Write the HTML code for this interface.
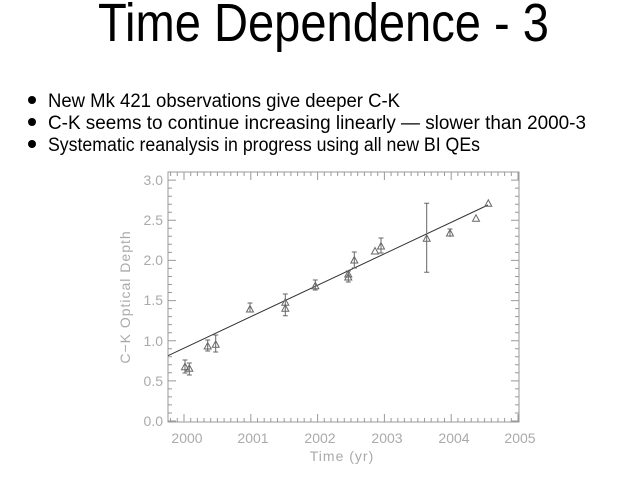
<!DOCTYPE html>
<html><head><style>html,body{margin:0;padding:0;background:#fff}svg{display:block}</style></head>
<body>
<svg width="640" height="480" xmlns="http://www.w3.org/2000/svg" font-family="Liberation Sans, sans-serif">
<rect width="640" height="480" fill="#fff"/>
<text x="98" y="41" font-size="54" textLength="451" lengthAdjust="spacingAndGlyphs" fill="#000">Time Dependence - 3</text>
<g font-size="19" fill="#000">
<circle cx="32" cy="100" r="4"/><circle cx="32" cy="122" r="4"/><circle cx="32" cy="144" r="4"/>
<text x="48" y="107" textLength="352" lengthAdjust="spacingAndGlyphs">New Mk 421 observations give deeper C-K</text>
<text x="48" y="129" textLength="538" lengthAdjust="spacingAndGlyphs">C-K seems to continue increasing linearly — slower than 2000-3</text>
<text x="48" y="151" textLength="432" lengthAdjust="spacingAndGlyphs">Systematic reanalysis in progress using all new BI QEs</text>
</g>
<g stroke="#999" fill="none" stroke-width="1">
<rect x="168" y="172" width="351" height="250"/>
<path id="ticks" d=""/>
</g>
<g font-size="14" fill="#aaa" text-anchor="end">
<text x="163" y="426">0.0</text><text x="163" y="386">0.5</text><text x="163" y="346">1.0</text>
<text x="163" y="305">1.5</text><text x="163" y="265">2.0</text><text x="163" y="225">2.5</text><text x="163" y="185">3.0</text>
</g>
<g font-size="14" fill="#aaa" text-anchor="middle">
<text x="187" y="443">2000</text><text x="253" y="443">2001</text><text x="320" y="443">2002</text>
<text x="387" y="443">2003</text><text x="454" y="443">2004</text><text x="520" y="443">2005</text>
<text x="342" y="461" letter-spacing="1">Time (yr)</text>
<text transform="translate(130,297) rotate(-90)" letter-spacing="1">C−K Optical Depth</text>
</g>
<line x1="168" y1="355.7" x2="488" y2="205" stroke="#333" stroke-width="1"/>
<g stroke="#666" fill="none" stroke-width="1">
<path d="M181.5 369.7L185 363.2L188.5 369.7Z M185 360V373M182.5 360h5M182.5 373h5"/>
<path d="M185.8 371.3L189.3 364.8L192.8 371.3Z M189.3 363V375M186.8 363h5M186.8 375h5"/>
<path d="M204.2 349L207.7 342.5L211.2 349Z M207.7 340V351M205.2 340h5M205.2 351h5"/>
<path d="M212.2 347.3L215.7 340.8L219.2 347.3Z M215.7 335V352M213.2 335h5M213.2 352h5"/>
<path d="M246.5 312L250 305.5L253.5 312Z M250 303V312M247.5 303h5M247.5 312h5"/>
<path d="M281.8 305.3L285.3 298.8L288.8 305.3Z M285.3 294V306M282.8 294h5"/>
<path d="M281.8 311.3L285.3 304.8L288.8 311.3Z M285.3 304V315.7M282.8 315.7h5"/>
<path d="M311.8 288.7L315.3 282.2L318.8 288.7Z M315.3 280V290M312.8 280h5M312.8 290h5"/>
<path d="M344.8 280L348.3 273.5L351.8 280Z M348.3 271V282M345.8 271h5M345.8 282h5"/>
<path d="M344.8 277L348.3 270.5L351.8 277Z"/>
<path d="M350.8 263L354.3 256.5L357.8 263Z M354.3 252V268M351.8 252h5M351.8 268h5"/>
<path d="M371.5 254L375 247.5L378.5 254Z"/>
<path d="M377.5 249L381 242.5L384.5 249Z M381 238V253M378.5 238h5M378.5 253h5"/>
<path d="M423.2 241.3L426.7 234.8L430.2 241.3Z M426.7 203.3V272.3M424.2 203.3h5M424.2 272.3h5"/>
<path d="M446.5 236L450 229.5L453.5 236Z M450 229V237M447.5 229h5"/>
<path d="M472.5 221.3L476 214.8L479.5 221.3Z"/>
<path d="M484.8 206.3L488.3 199.8L491.8 206.3Z"/>
</g>
<script>
var d='';
for(var k=-2;k<=52;k++){var yr=1999.8+k*0.1;var x=184+(yr-2000)*66.8;if(x<168.5||x>518.5)continue;var maj=Math.abs(yr-Math.round(yr))<0.01;var L=maj?8:4;d+='M'+x.toFixed(1)+' 422v-'+L+'M'+x.toFixed(1)+' 172v'+L;}
for(var k=0;k<=30;k++){var y=421-k*0.1*80.3;var L=(k%5==0)?8:4;d+='M168 '+y.toFixed(1)+'h'+L+'M519 '+y.toFixed(1)+'h-'+L;}
document.getElementById('ticks').setAttribute('d',d);
</script>
</svg>
</body></html>
